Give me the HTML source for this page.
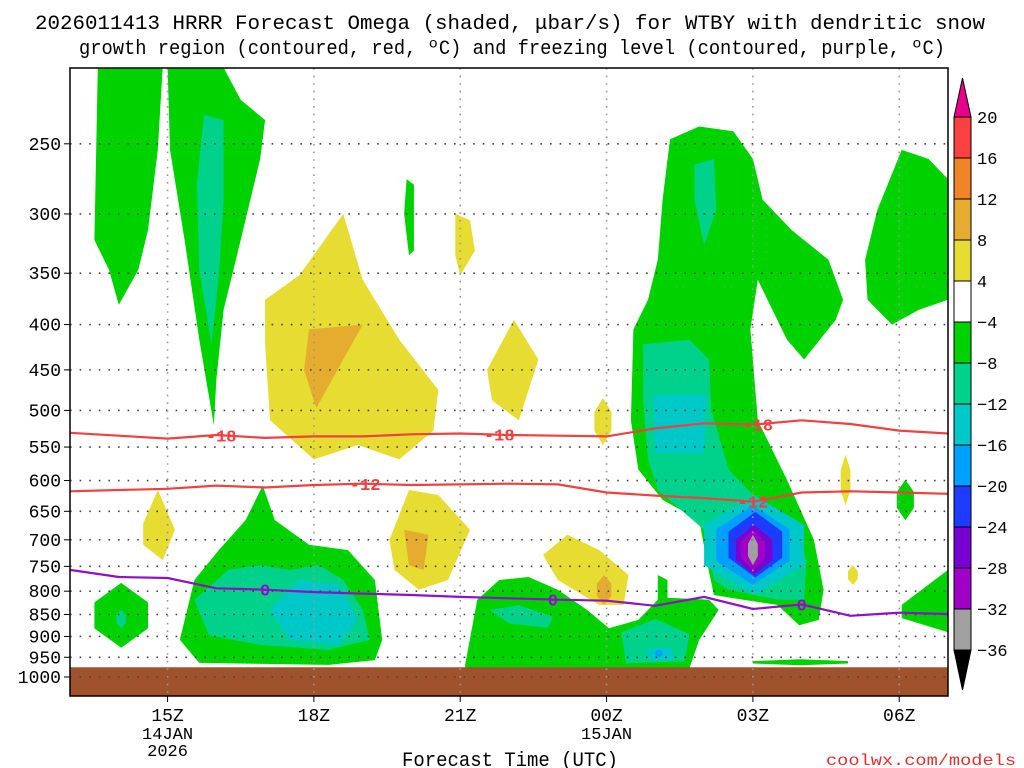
<!DOCTYPE html>
<html><head><meta charset="utf-8"><style>
html,body{margin:0;padding:0;background:#fff;}
svg{display:block;font-family:"Liberation Mono","DejaVu Sans Mono",monospace;}
</style></head><body>
<svg id="chart" width="1024" height="768" viewBox="0 0 1024 768" xmlns="http://www.w3.org/2000/svg">
<text x="510" y="29" text-anchor="middle" font-size="20" textLength="950" lengthAdjust="spacingAndGlyphs" fill="#000">2026011413 HRRR Forecast Omega (shaded, μbar/s) for WTBY with dendritic snow</text>
<text x="512" y="54" text-anchor="middle" font-size="20" textLength="866" lengthAdjust="spacingAndGlyphs" fill="#000">growth region (contoured, red, ºC) and freezing level (contoured, purple, ºC)</text>
<g id="plot"></g>
<g id="axes"></g>
<g id="cbar"></g>
<text x="510" y="766" text-anchor="middle" font-size="20" textLength="216" lengthAdjust="spacingAndGlyphs" fill="#000">Forecast Time (UTC)</text>
<text x="1016" y="765" text-anchor="end" font-size="16" textLength="190" lengthAdjust="spacingAndGlyphs" fill="#e03030">coolwx.com/models</text>
</svg>
<script>
// ---- data ----
const pressureTicks = [250,300,350,400,450,500,550,600,650,700,750,800,850,900,950,1000];
const timeTicks = [15,18,21,24,27,30];
const timeLabels = ["15Z","18Z","21Z","00Z","03Z","06Z"];
const dateLabels = {15:["14JAN","2026"],24:["15JAN"]};
const cbarLevels = ["20","16","12","8","4","-4","-8","-12","-16","-20","-24","-28","-32","-36"];
const cbarColors = ["#fa4040","#f08428","#e6ac30","#e6dc32","#ffffff","#00d200","#00d28c","#00c8c8","#00a0ff","#1e3cff","#7800d2","#a000c8","#a0a0a0"];
const lineHours = [13,14,15,16,17,18,19,20,21,22,23,24,25,26,27,28,29,30,31];
const isoMinus18 = [530,534,538,533,537,535,535,532,531,533,534,535,524,517,519,513,518,527,531];
const isoMinus12 = [617,615,613,608,611,607,605,607,606,605,606,619,624,628,634,619,617,619,621];
const freezing0 = [757,771,773,794,797,802,805,808,812,815,818,820,831,812,838,828,853,846,849];
const G="#00d200",T="#00d28c",C="#00c8c8",B="#00a0ff",D="#1e3cff",P="#7800d2",M="#a000c8",Y="#e6dc32",O="#e6ac30",GR="#a0a0a0";
const polyRegions = [
 [G,[[13.57,205],[14.9,205],[14.8,254],[14.6,313],[14.4,347],[14.0,380],[13.8,347],[13.5,321]]],
 [G,[[15.0,205],[16.15,205],[16.5,223],[17.0,235],[16.9,260],[16.5,321],[16.15,385],[16.0,462],[15.95,520],[15.65,416],[15.35,321],[15.05,254]]],
 [T,[[15.75,232],[16.15,235],[16.15,289],[16.05,352],[15.9,421],[15.65,347],[15.6,278]]],
 [G,[[25.3,247],[25.9,239],[26.6,242],[27.0,260],[27.2,289],[27.8,313],[28.55,338],[28.85,375],[28.7,395],[28.05,438],[27.7,416],[27.3,375],[27.1,356],[26.95,405],[27.1,513],[27.7,599],[28.25,700],[28.45,797],[28.35,862],[27.95,874],[27.5,829],[26.8,818],[26.2,808],[26.05,738],[25.9,665],[25.15,631],[24.65,583],[24.5,513],[24.55,405],[24.85,375],[25.05,338],[25.15,289]]],
 [G,[[21.1,969],[21.35,818],[21.8,777],[22.4,771],[23.0,797],[23.6,840],[24.05,881],[24.65,862],[25.05,818],[25.05,767],[25.25,777],[25.25,814],[26.1,818],[26.3,840],[25.9,908],[25.7,977],[21.1,977]]],
 [T,[[21.6,840],[22.2,830],[22.9,855],[22.8,880],[22.0,870]]],
 [T,[[24.3,890],[25.0,860],[25.7,895],[25.6,960],[24.4,965]]],
 [C,[[24.8,930],[25.3,925],[25.4,955],[24.9,960]]],
 [T,[[24.75,421],[25.7,416],[26.1,438],[26.15,500],[26.5,583],[27.1,631],[27.8,665],[28.1,738],[28.05,818],[27.5,818],[26.5,797],[26.2,777],[26.0,682],[25.05,615],[24.85,568],[24.75,487]]],
 [C,[[24.95,480],[26.05,480],[26.0,560],[25.0,558]]],
 [T,[[25.8,264],[26.2,260],[26.25,297],[26.0,325],[25.8,289]]],
 [G,[[15.25,908],[15.55,777],[16.05,719],[16.6,665],[16.95,608],[17.2,665],[17.9,709],[18.7,719],[19.25,777],[19.4,908],[19.25,957],[18.3,969],[15.65,964]]],
 [T,[[15.55,818],[16.25,757],[16.9,748],[17.5,757],[18.1,748],[18.6,777],[19.0,840],[19.15,908],[18.3,932],[16.9,920],[15.85,897]]],
 [C,[[17.1,840],[17.7,777],[18.5,787],[18.9,862],[18.5,920],[17.5,908]]],
 [G,[[19.9,274],[20.05,278],[20.05,330],[19.95,334],[19.85,300]]],
 [G,[[29.3,338],[29.55,297],[30.05,254],[30.6,260],[31,274],[31,375],[30.4,385],[29.85,400],[29.35,375]]],
 [G,[[30.05,829],[31,757],[31,890],[30.05,858]]],
 [Y,[[17.0,375],[17.7,352],[18.6,300],[19.0,356],[19.75,416],[20.55,474],[20.45,527],[19.75,568],[18.9,547],[18.0,568],[17.1,513],[17.0,421]]],
 [O,[[17.9,405],[19.0,400],[18.6,438],[18.05,497],[17.8,450]]],
 [Y,[[20.9,300],[21.2,305],[21.3,330],[21.0,352],[20.9,334]]],
 [Y,[[21.55,450],[22.1,395],[22.6,438],[22.2,513],[21.65,487]]],
 [Y,[[14.5,671],[14.8,615],[15.15,682],[14.9,738],[14.5,709]]],
 [Y,[[19.55,700],[19.95,615],[20.55,623],[21.2,682],[20.75,777],[20.15,797],[19.65,757]]],
 [O,[[19.85,682],[20.35,691],[20.25,757],[19.95,748]]],
 [Y,[[22.7,728],[23.2,691],[23.85,719],[24.45,767],[24.35,829],[23.85,829],[23.0,777]]]
];
const cellRegions = [
 [13.5,14.6,783,927,G],[13.95,14.15,840,880,T],[25.0,25.15,930,950,B],
 [29.95,30.3,599,665,G],[27.0,28.95,955,970,G],
 [23.75,24.1,484,547,Y],[23.8,24.1,767,829,O],[28.8,29.0,561,640,Y],[28.95,29.15,748,787,Y],
 [26.0,28.05,623,808,C],[26.25,27.75,640,787,B],[26.5,27.6,651,772,D],[26.65,27.4,673,767,P],[26.75,27.25,682,757,M],[26.9,27.1,691,748,GR]
];
const lineLabels = [["-18",isoMinus18,[16.1,21.8,27.1]],["-12",isoMinus12,[19.05,27]],["0",freezing0,[17,22.9,28]]];

// ---- scales ----
const X0=70,X1=948,Y0=68,Y1=696,H0=13,H1=31;
const xs=h=>X0+(h-H0)/(H1-H0)*(X1-X0);
const ys=p=>677+Math.log(p/1000)/0.0026;
const NS="http://www.w3.org/2000/svg";
function mk(tag,attrs,parent){const e=document.createElementNS(NS,tag);for(const k in attrs)e.setAttribute(k,attrs[k]);parent.appendChild(e);return e;}
const plot=document.getElementById('plot'),axes=document.getElementById('axes'),cbar=document.getElementById('cbar');
const cp=mk('clipPath',{id:'clip'},plot);mk('rect',{x:X0,y:Y0,width:X1-X0,height:Y1-Y0},cp);
const g=mk('g',{'clip-path':'url(#clip)'},plot);

polyRegions.forEach((r,i)=>{
 const e=mk('polygon',{points:r[1].map(q=>xs(q[0]).toFixed(1)+','+ys(q[1]).toFixed(1)).join(' '),fill:r[0]},g);
 
 
});
cellRegions.forEach((c,i)=>{
 const xa=xs(c[0]),xb=xs(c[1]),ya=ys(c[2]),yb=ys(c[3]),xm=(xa+xb)/2,yh=(yb-ya);
 const pts=[[xm,ya],[xb,ya+yh*0.3],[xb,ya+yh*0.7],[xm,yb],[xa,ya+yh*0.7],[xa,ya+yh*0.3]];
 const e=mk('polygon',{points:pts.map(q=>q[0].toFixed(1)+','+q[1].toFixed(1)).join(' '),fill:c[4]},g);
 
 
});
const gr=mk('rect',{x:X0,y:ys(975),width:X1-X0,height:Y1-ys(975),fill:'#a0522d'},g);


pressureTicks.forEach(p=>{
 const l=mk('line',{x1:X0,x2:X1,y1:ys(p),y2:ys(p),stroke:'#444','stroke-width':1.6,'stroke-dasharray':'1.6 8'},plot);
 
 
 mk('line',{x1:X0-6,x2:X0,y1:ys(p),y2:ys(p),stroke:'#000'},axes);
 const t=mk('text',{x:61,y:ys(p)+6,'text-anchor':'end','font-size':18},axes);t.textContent=p;
 
 
});
timeTicks.forEach((h,i)=>{
 const l=mk('line',{x1:xs(h),x2:xs(h),y1:Y0,y2:Y1,stroke:'#999','stroke-width':1.6,'stroke-dasharray':'1.6 6'},plot);
 
 
 mk('line',{x1:xs(h),x2:xs(h),y1:Y1,y2:Y1+6,stroke:'#000'},axes);
 const t=mk('text',{x:xs(h),y:721,'text-anchor':'middle','font-size':18},axes);t.textContent=timeLabels[i];
 
 
 (dateLabels[h]||[]).forEach((s,j)=>{const d=mk('text',{x:xs(h),y:739+j*17,'text-anchor':'middle','font-size':17},axes);d.textContent=s;
  
  });
});
[[isoMinus18,'#f04040','dgz-minus18-line'],[isoMinus12,'#f04040','dgz-minus12-line'],[freezing0,'#9010c8','freezing-level-line']].forEach(s=>{
 const e=mk('polyline',{points:lineHours.map((h,i)=>xs(h).toFixed(1)+','+ys(s[0][i]).toFixed(1)).join(' '),fill:'none',stroke:s[1],'stroke-width':2.2},plot);
 
 
});
function interp(arr,h){const i=Math.min(lineHours.length-2,Math.floor(h-H0));const f=h-lineHours[i];return arr[i]*(1-f)+arr[i+1]*f;}
lineLabels.forEach(L=>{
 const col=L[0]==="0"?'#9010c8':'#f04040';
 L[2].forEach(h=>{
  const x=xs(h),y=ys(interp(L[1],h));
  const t=mk('text',{x:x,y:y+6,'text-anchor':'middle','font-size':17,'font-weight':'bold',fill:col},plot);t.textContent=L[0];
  
  
 });
});
mk('rect',{x:X0,y:Y0,width:X1-X0,height:Y1-Y0,fill:'none',stroke:'#000','stroke-width':1.5},axes);
const CX=954,CW=17,CT=117,CH=41;
cbarColors.forEach((c,i)=>{
 const r=mk('rect',{x:CX,y:CT+i*CH,width:CW,height:CH,fill:c,stroke:'#000','stroke-width':1},cbar);
 
 
});
mk('polygon',{points:`${CX},${CT} ${CX+CW},${CT} ${CX+CW/2},78`,fill:'#e8008a',stroke:'#000'},cbar);
const yb=CT+cbarColors.length*CH;
mk('polygon',{points:`${CX},${yb} ${CX+CW},${yb} ${CX+CW/2},690`,fill:'#000',stroke:'#000'},cbar);
cbarLevels.forEach((s,i)=>{
 const t=mk('text',{x:977,y:CT+i*CH+6,'font-size':17},cbar);t.textContent=s.replace('-','\u2212');
 
 
});
</script>
</body></html>
